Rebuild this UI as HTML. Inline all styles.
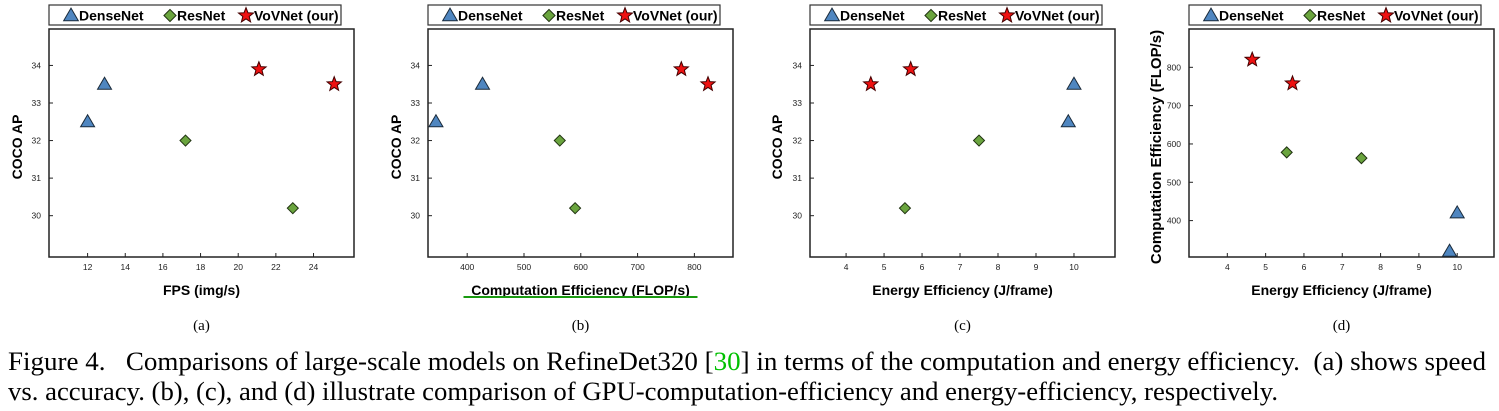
<!DOCTYPE html>
<html><head><meta charset="utf-8">
<style>
body{margin:0;background:#fff;width:1499px;height:411px;overflow:hidden;}
svg{display:block}
.cap{font-family:"Liberation Serif",serif;}
</style></head>
<body>
<svg id="fig" width="1499" height="411" viewBox="0 0 1499 411" xmlns="http://www.w3.org/2000/svg">
<text class="cap" x="8" y="370" font-size="26.6" textLength="1478" lengthAdjust="spacingAndGlyphs">Figure 4.&#160;&#160; Comparisons of large-scale models on RefineDet320 [<tspan fill="#00c000">30</tspan>] in terms of the computation and energy efficiency.&#160;&#160;(a) shows speed</text>
<text class="cap" x="8" y="400" font-size="26.6" textLength="1270" lengthAdjust="spacingAndGlyphs">vs. accuracy. (b), (c), and (d) illustrate comparison of GPU-computation-efficiency and energy-efficiency, respectively.</text>
</svg>
<script>
// Panel (a): FPS vs COCO AP
const aDenseX=[12,12.9], aDenseY=[32.5,33.5];
const aResX=[17.2,22.9], aResY=[32,30.2];
const aVovX=[21.1,25.1], aVovY=[33.9,33.5];
const aXTicks=[12,14,16,18,20,22,24], aYTicks=[30,31,32,33,34];
// Panel (b): Computation efficiency vs COCO AP
const bDenseX=[345,427], bDenseY=[32.5,33.5];
const bResX=[563,590], bResY=[32,30.2];
const bVovX=[777,824], bVovY=[33.9,33.5];
const bXTicks=[400,500,600,700,800], bYTicks=[30,31,32,33,34];
// Panel (c): Energy efficiency vs COCO AP
const cDenseX=[9.85,10], cDenseY=[32.5,33.5];
const cResX=[5.55,7.5], cResY=[30.2,32];
const cVovX=[4.65,5.7], cVovY=[33.5,33.9];
const cXTicks=[4,5,6,7,8,9,10], cYTicks=[30,31,32,33,34];
// Panel (d): Energy efficiency vs Computation efficiency
const dDenseX=[9.8,10], dDenseY=[320,420];
const dResX=[5.55,7.5], dResY=[578,563];
const dVovX=[4.65,5.7], dVovY=[820,758];
const dXTicks=[4,5,6,7,8,9,10], dYTicks=[400,500,600,700,800];

const NS="http://www.w3.org/2000/svg";
const svg=document.getElementById('fig');
function mk(tag,attrs,parent){const e=document.createElementNS(NS,tag);for(const k in attrs)e.setAttribute(k,attrs[k]);(parent||svg).appendChild(e);return e;}
const SANS='"Liberation Sans","DejaVu Sans",sans-serif';

function tri(g,x,y,s){s=s||1;return mk('polygon',{points:`${x},${y-7*s} ${x-7*s},${y+5*s} ${x+7*s},${y+5*s}`,fill:'#4f86c0',stroke:'#1a2a3a','stroke-width':1},g);}
function dia(g,x,y,s){s=s||1;return mk('polygon',{points:`${x},${y-5.5*s} ${x+5.5*s},${y} ${x},${y+5.5*s} ${x-5.5*s},${y}`,fill:'#6aa43e',stroke:'#1f3010','stroke-width':1},g);}
function star(g,x,y,s){s=s||1;let p=[];for(let i=0;i<10;i++){const r=(i%2?3.2:7.5)*s;const a=-Math.PI/2+i*Math.PI/5;p.push((x+r*Math.cos(a)).toFixed(1)+','+(y+r*Math.sin(a)).toFixed(1));}return mk('polygon',{points:p.join(' '),fill:'#ee1111',stroke:'#400','stroke-width':1},g);}

function panel(id,L,xmin,xmax,ymin,ymax,xt,yt,dx,dy,rx,ry,vx,vy,xtitle,ytitle,ytitleX,label,underline,ytfs){
  const T=29,B=257,R=L+305;
  const g=mk('g',{});
  
  
  const sx=v=>L+(v-xmin)/(xmax-xmin)*(R-L);
  const sy=v=>B-(v-ymin)/(ymax-ymin)*(B-T);
  const lg=mk('g',{},g);
  
  
  mk('rect',{x:L,y:5,width:292,height:20,fill:'#fff',stroke:'#333','stroke-width':1.2},lg);
  tri(lg,L+22,15.5,1.05);
  const t1=mk('text',{x:L+30,y:20.5,'font-family':SANS,'font-size':14,'font-weight':'bold'},lg);t1.textContent='DenseNet';
  dia(lg,L+121,15.5,1.1);
  const t2=mk('text',{x:L+128,y:20.5,'font-family':SANS,'font-size':14,'font-weight':'bold'},lg);t2.textContent='ResNet';
  star(lg,L+197,15.5,1.05);
  const t3=mk('text',{x:L+205,y:20.5,'font-family':SANS,'font-size':14,'font-weight':'bold'},lg);t3.textContent='VoVNet (our)';
  const fr=mk('rect',{x:L,y:T,width:R-L,height:B-T,fill:'none',stroke:'#222','stroke-width':1.5},g);
  
  
  xt.forEach(v=>{const x=sx(v);mk('line',{x1:x,x2:x,y1:B,y2:B-4,stroke:'#222'},g);
    const t=mk('text',{x:x,y:B+13,'text-anchor':'middle','font-family':SANS,'font-size':8.5,fill:'#222'},g);t.textContent=v;
    });
  yt.forEach(v=>{const y=sy(v);mk('line',{x1:L,x2:L+4,y1:y,y2:y,stroke:'#222'},g);
    const t=mk('text',{x:L-8,y:y+3,'text-anchor':'end','font-family':SANS,'font-size':8.5,fill:'#222'},g);t.textContent=v;
    });
  const xtt=mk('text',{x:(L+R)/2,y:295,'text-anchor':'middle','font-family':SANS,'font-size':14,'font-weight':'bold'},g);xtt.textContent=xtitle;
  
  if(underline){mk('rect',{x:(L+R)/2-117,y:296,width:234,height:2,fill:'#1a9a10'},g);}
  const ytt=mk('text',{x:ytitleX,y:(T+B)/2+4,'text-anchor':'middle','font-family':SANS,'font-size':ytfs,'font-weight':'bold',transform:`rotate(-90 ${ytitleX} ${(T+B)/2+4})`},g);ytt.textContent=ytitle;
  
  const cap=mk('text',{x:(L+R)/2,y:330,'text-anchor':'middle','font-family':'"Liberation Serif",serif','font-size':15},g);cap.textContent=label;
  
  dx.forEach((v,i)=>{const m=tri(g,sx(v),sy(dy[i]));});
  rx.forEach((v,i)=>{const m=dia(g,sx(v),sy(ry[i]));});
  vx.forEach((v,i)=>{const m=star(g,sx(v),sy(vy[i]));});
}
panel('a',49,9.95,26.15,28.9,34.97,aXTicks,aYTicks,aDenseX,aDenseY,aResX,aResY,aVovX,aVovY,'FPS (img/s)','COCO AP',22,'(a)',false,14);
panel('b',428,331,868,28.9,34.97,bXTicks,bYTicks,bDenseX,bDenseY,bResX,bResY,bVovX,bVovY,'Computation Efficiency (FLOP/s)','COCO AP',401,'(b)',true,14);
panel('c',810,3.05,11.08,28.9,34.97,cXTicks,cYTicks,cDenseX,cDenseY,cResX,cResY,cVovX,cVovY,'Energy Efficiency (J/frame)','COCO AP',782,'(c)',false,14);
panel('d',1189,3.0,10.96,305,900,dXTicks,dYTicks,dDenseX,dDenseY,dResX,dResY,dVovX,dVovY,'Energy Efficiency (J/frame)','Computation Efficiency (FLOP/s)',1161,'(d)',false,15);
</script>
</body></html>
